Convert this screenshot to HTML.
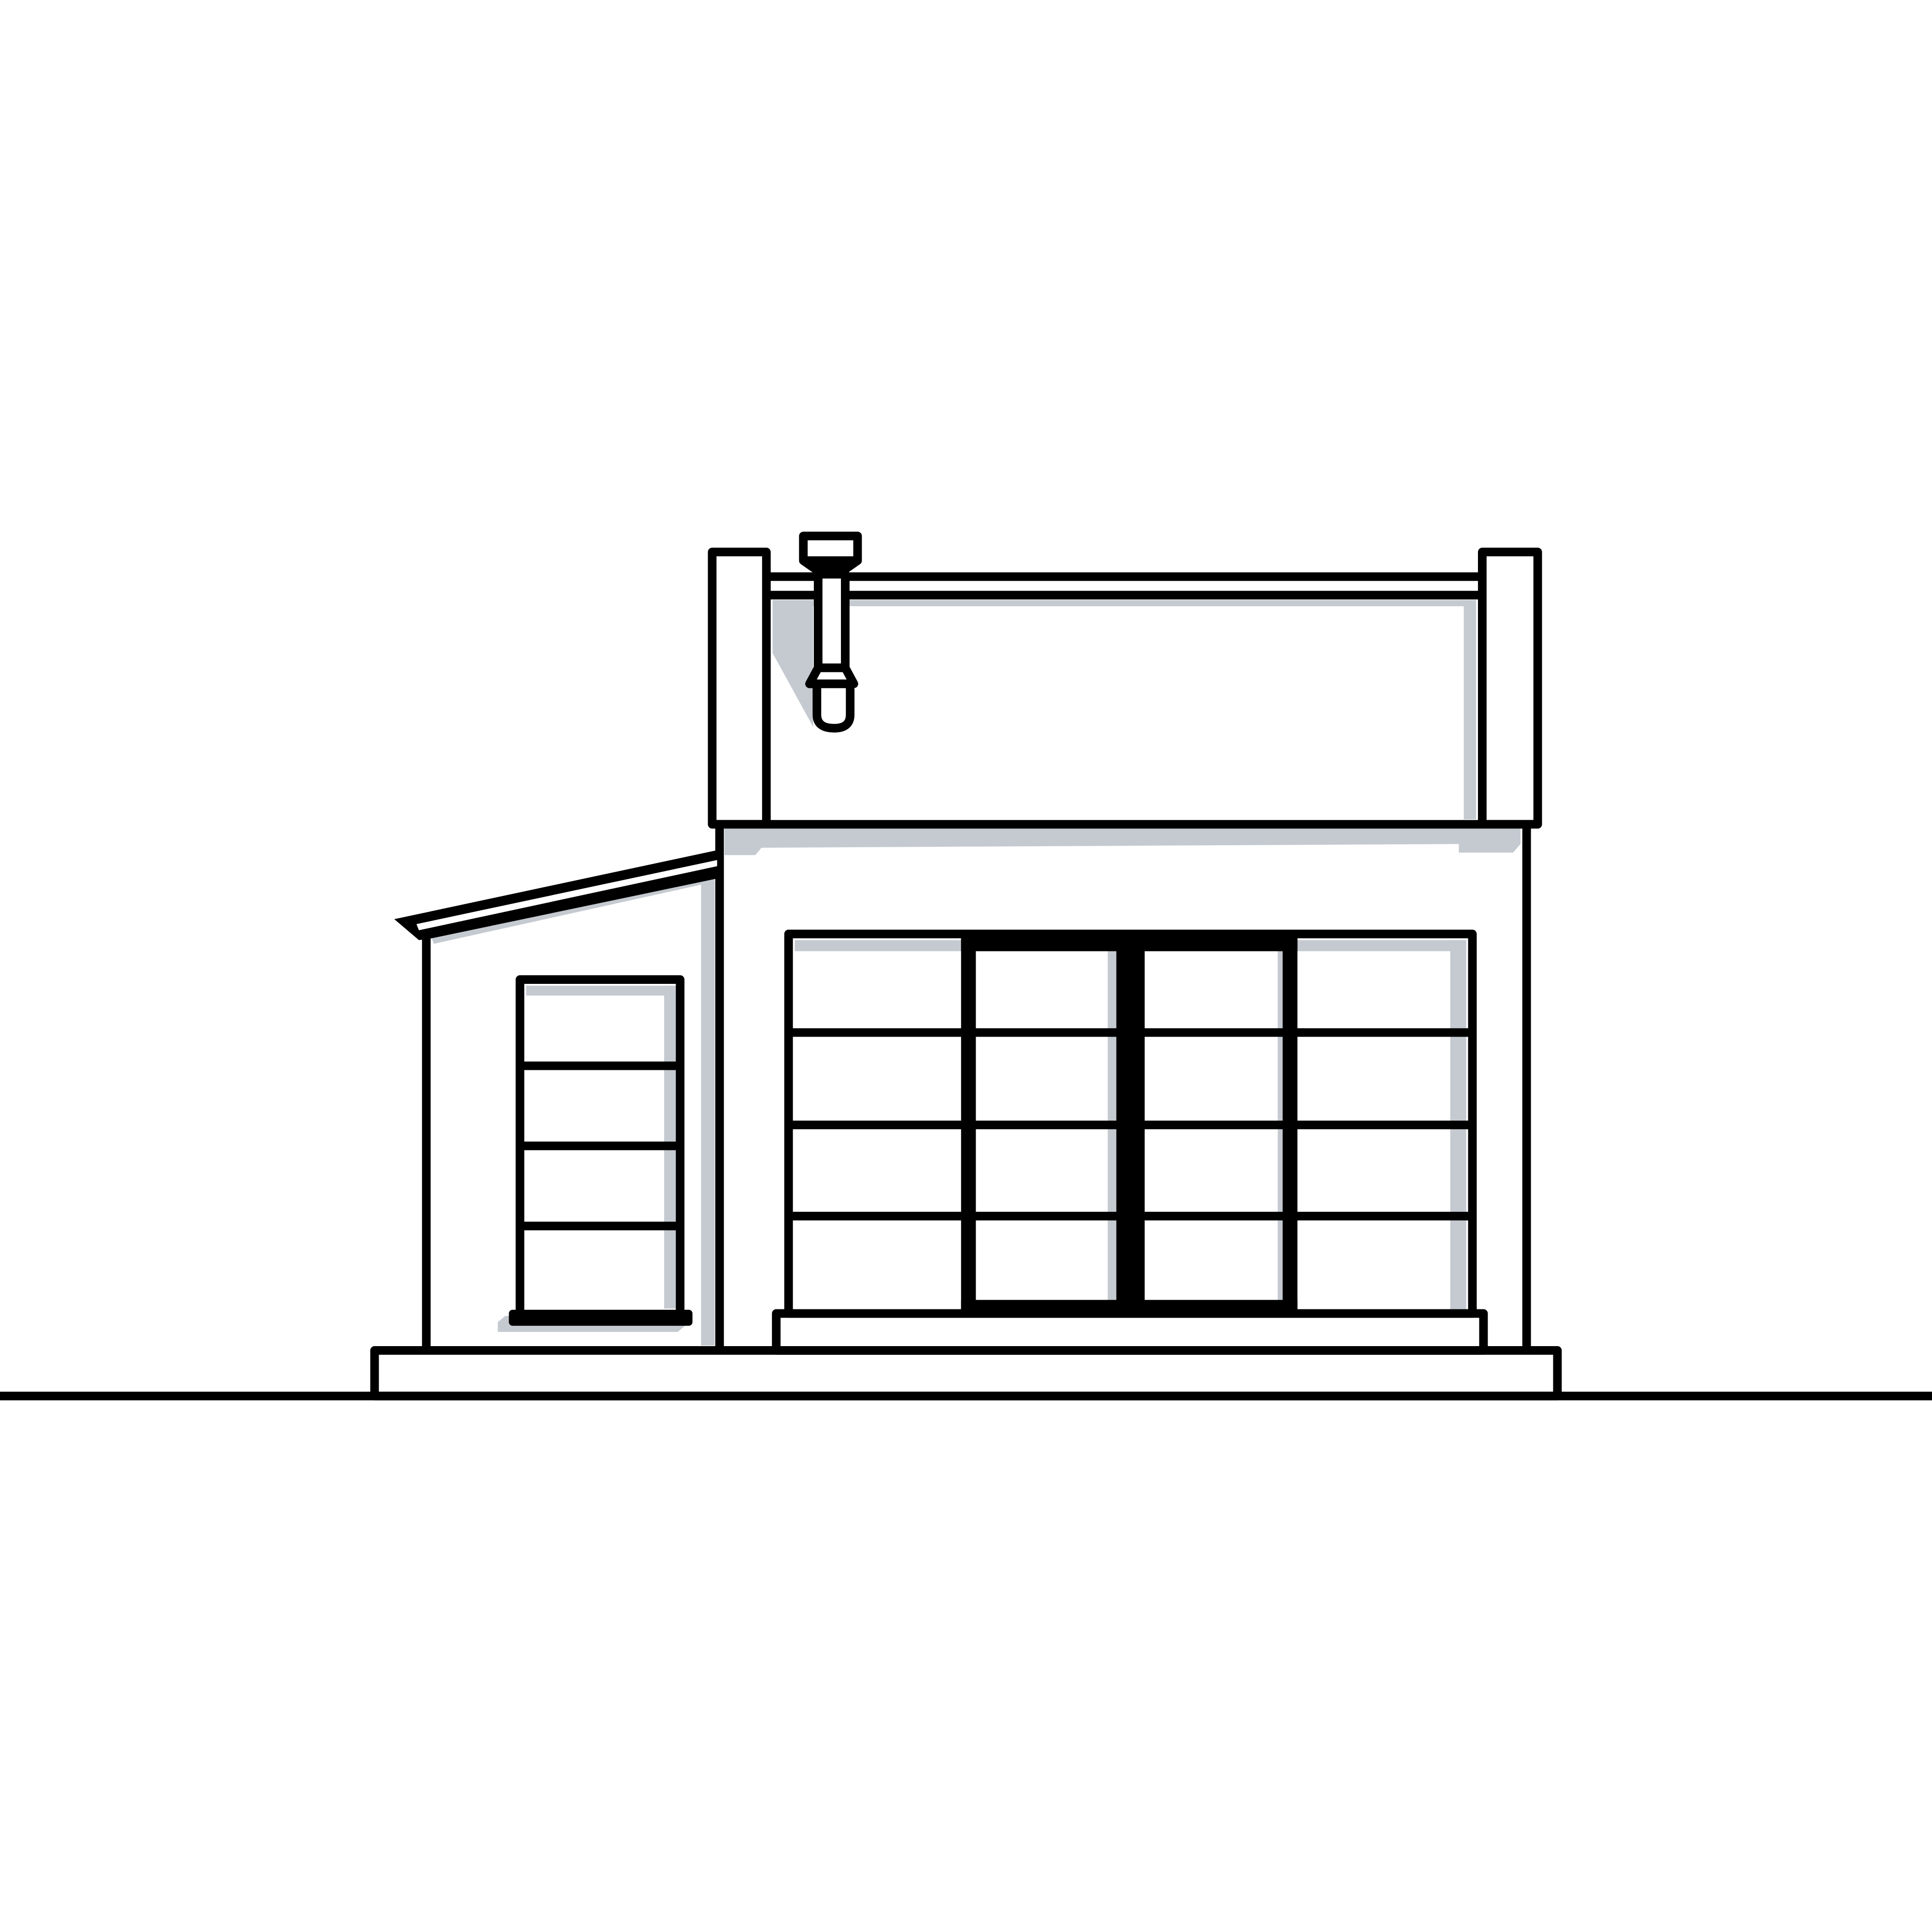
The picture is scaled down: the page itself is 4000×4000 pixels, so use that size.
<!DOCTYPE html>
<html><head><meta charset="utf-8"><style>html,body{margin:0;padding:0;background:#fff}svg{display:block}</style></head>
<body>
<svg width="4000" height="4000" viewBox="0 0 1568 1568" xmlns="http://www.w3.org/2000/svg">
<rect width="1568" height="1568" fill="#fff"/>
<g fill="#c5cad1">
  <polygon points="350,760 569,712 580,712 580,1092 569,1092 569,718 352,766"/>
  <rect x="427" y="800" width="121" height="8"/>
  <rect x="539" y="800" width="10" height="262"/>
  <polygon points="410,1068 556,1068 556,1076 550,1081 404,1081 404,1073"/>
  <polygon points="588,672 1234,672 1234,685 1228,692 1184,692 1184,685 618,688 613,694 588,694"/>
  <polygon points="627,487 1198,487 1198,665 1188,665 1188,492 660,492 660,590 627,530"/>
  <rect x="645" y="763" width="136" height="9"/>
  <rect x="1052" y="763" width="138" height="9"/>
  <rect x="1177" y="763" width="13" height="300"/>
  <rect x="1037" y="770" width="6" height="286"/>
  <rect x="899" y="770" width="7" height="286"/>
</g>
<g fill="none" stroke="#000" stroke-width="7" stroke-linejoin="round">
  <line x1="0" y1="1133" x2="1568" y2="1133"/>
  <rect x="304" y="1096" width="960" height="37"/>
  <rect x="630" y="1066" width="574" height="30"/>
  <line x1="346" y1="758" x2="346" y2="1096"/>
  <line x1="584" y1="668" x2="584" y2="1096"/>
  <line x1="1239" y1="668" x2="1239" y2="1096"/>
  <rect x="422" y="795" width="130" height="272"/>
  <line x1="422" y1="865" x2="552" y2="865"/>
  <line x1="422" y1="930" x2="552" y2="930"/>
  <line x1="422" y1="995" x2="552" y2="995"/>
  <rect x="578" y="448" width="44" height="221"/>
  <rect x="1203" y="448" width="45" height="221"/>
  <line x1="622" y1="468" x2="1203" y2="468"/>
  <line x1="622" y1="483" x2="1203" y2="483"/>
  <line x1="578" y1="669" x2="1248" y2="669"/>
  <rect x="640" y="758" width="555" height="308"/>
  <line x1="640" y1="838" x2="1195" y2="838"/>
  <line x1="640" y1="913" x2="1195" y2="913"/>
  <line x1="640" y1="987" x2="1195" y2="987"/>
</g>
<polygon points="320,746 582,690 582,713 348,762 340,763" fill="#000"/>
<polygon points="338,750 582,698 582,703 340,755" fill="#fff"/>
<rect x="413" y="1063" width="149" height="13" rx="3" fill="#000"/>
<rect x="780" y="758" width="12" height="308" fill="#000"/>
<rect x="906" y="758" width="23" height="308" fill="#000"/>
<rect x="1041" y="758" width="12" height="308" fill="#000"/>
<rect x="780" y="755" width="273" height="17" fill="#000"/>
<rect x="780" y="1055" width="273" height="11" fill="#000"/>
<g stroke="#000" stroke-width="7" stroke-linejoin="round" fill="#fff">
  <rect x="664" y="466" width="22" height="76"/>
  <polygon points="664,542 686,542 693,555 657,555"/>
  <path d="M663,555 V580 Q663,591 677,591 Q690,591 690,580 V555 Z"/>
  <polygon points="652,435 696,435 696,455 686,462 662,462 652,455"/>
  <line x1="654" y1="455" x2="694" y2="455"/>
</g>
<rect x="660" y="454" width="28" height="9" fill="#000"/>
</svg>
</body></html>
